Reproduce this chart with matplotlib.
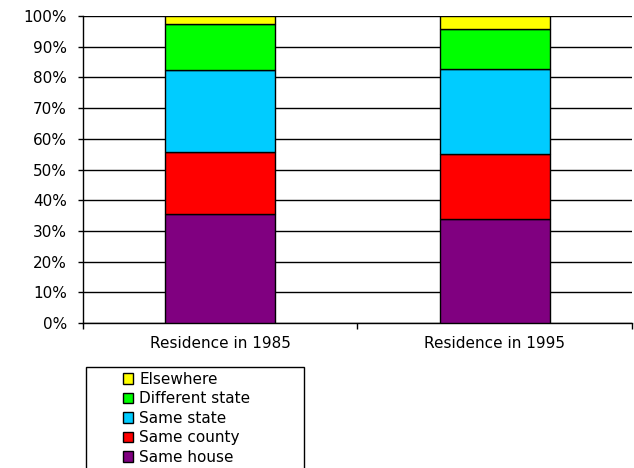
import matplotlib.pyplot as plt
import matplotlib.patches as mpatches
from matplotlib.ticker import PercentFormatter, FixedLocator

years = ['Residence in 1985', 'Residence in 1995']
categories = ['Same house', 'Same county', 'Same state', 'Different state', 'Elsewhere']
colors = ['#800080', '#ff0000', '#00ccff', '#00ff00', '#ffff00']

same_house = [35.5, 33.9]
same_county = [20.2, 21.0]
same_state = [26.7, 27.8]
different_state = [15.0, 13.1]
elsewhere = [2.6, 4.2]

series = [same_house, same_county, same_state, different_state, elsewhere]

W, H = 634, 468
fig = plt.figure(figsize=(W / 100, H / 100), dpi=100)
ax = fig.add_axes([83 / W, 1 - 323 / H, (632 - 83) / W, (323 - 16) / H])

x = range(len(years))
bottom = [0, 0]
handles = []
for vals, name, c in zip(series, categories, colors):
    b = ax.bar(x, vals, width=0.4, bottom=bottom, color=c, edgecolor='black',
               linewidth=1, label=name, zorder=3)
    handles.append(b)
    bottom = [bt + v for bt, v in zip(bottom, vals)]

ax.set_xlim(-0.5, 1.5)
ax.set_ylim(0, 100)
ax.set_yticks(range(0, 101, 10))
ax.yaxis.set_major_formatter(PercentFormatter(decimals=0))
ax.yaxis.grid(True, color='black', linewidth=1)
ax.set_axisbelow(True)

ax.set_xticks(list(x))
ax.set_xticklabels(years)
ax.xaxis.set_minor_locator(FixedLocator([-0.5, 0.5, 1.5]))
ax.tick_params(axis='x', which='major', length=0, pad=9)
ax.tick_params(axis='x', which='minor', length=4, width=1, color='black')
ax.tick_params(axis='y', length=3.6, width=1, pad=8)
ax.tick_params(labelsize=11)

for s in ['top', 'right']:
    ax.spines[s].set_visible(False)
for s in ['left', 'bottom']:
    ax.spines[s].set_color('black')
    ax.spines[s].set_linewidth(1)

# legend: frame drawn separately so content sits centred in a wider box
leg = fig.legend(handles[::-1], categories[::-1], loc='upper left',
                 bbox_to_anchor=(115 / W, 1 - 364 / H), frameon=False,
                 fontsize=11, handlelength=0.7, handleheight=0.7,
                 handletextpad=0.4, labelspacing=0.3, borderpad=0)
fig.patches.append(mpatches.Rectangle((86 / W, -0.05), (304 - 86) / W,
                                      (1 - 367 / H) + 0.05,
                                      transform=fig.transFigure, fill=False,
                                      edgecolor='black', linewidth=1))

fig.savefig('out.png', dpi=100)
